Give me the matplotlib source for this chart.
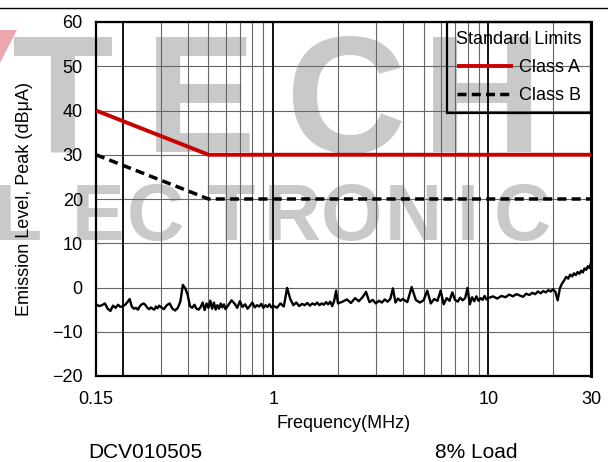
import matplotlib
matplotlib.use("Agg")
import matplotlib.pyplot as plt
from matplotlib.patches import Polygon
from matplotlib.lines import Line2D
from matplotlib.ticker import NullLocator

plt.rcParams['font.family'] = ['Liberation Sans', 'DejaVu Sans']
plt.rcParams['axes.unicode_minus'] = True

# ---------------- data ----------------
limit_freq = [0.15, 0.5, 30]
class_a = [40, 30, 30]
class_b = [30, 20, 20]

meas_freq = [
    0.150, 0.155, 0.160, 0.165, 0.170, 0.175, 0.180, 0.185, 0.190, 0.195,
    0.200, 0.205, 0.210, 0.215, 0.220, 0.225, 0.230, 0.235, 0.240, 0.245,
    0.250, 0.255, 0.260, 0.265, 0.270, 0.275, 0.280, 0.285, 0.290, 0.295, 0.300,
    0.31, 0.32, 0.33, 0.34, 0.35, 0.36, 0.37, 0.38, 0.39, 0.40,
    0.41, 0.42, 0.43, 0.44, 0.45, 0.46, 0.47, 0.48, 0.49, 0.50,
    0.51, 0.52, 0.53, 0.54, 0.55, 0.56, 0.57, 0.58, 0.59, 0.60,
    0.62, 0.64, 0.66, 0.68, 0.70, 0.72, 0.74, 0.76, 0.78, 0.80,
    0.82, 0.84, 0.86, 0.88, 0.90, 0.92, 0.94, 0.96, 0.98, 1.00,
    1.04, 1.08, 1.12, 1.16, 1.20, 1.24, 1.28, 1.32, 1.36, 1.40,
    1.44, 1.48, 1.52, 1.56, 1.60, 1.64, 1.68, 1.72, 1.76, 1.80,
    1.84, 1.88, 1.92, 1.96, 2.00,
    2.1, 2.2, 2.3, 2.4, 2.5, 2.6, 2.7, 2.8, 2.9, 3.0,
    3.1, 3.2, 3.3, 3.4, 3.5, 3.6, 3.7, 3.8, 3.9, 4.0,
    4.2, 4.4, 4.6, 4.8, 5.0, 5.2, 5.4, 5.6, 5.8, 6.0,
    6.2, 6.4, 6.6, 6.8, 7.0, 7.2, 7.4, 7.6, 7.8, 8.0,
    8.2, 8.4, 8.6, 8.8, 9.0, 9.2, 9.4, 9.6, 9.8, 10.0,
    10.5, 11.0, 11.5, 12.0, 12.5, 13.0, 13.5, 14.0, 14.5, 15.0,
    15.5, 16.0, 16.5, 17.0, 17.5, 18.0, 18.5, 19.0, 19.5, 20.0,
    20.5, 21.0, 21.5, 22.0, 22.5, 23.0, 23.5, 24.0, 24.5, 25.0,
    25.5, 26.0, 26.5, 27.0, 27.5, 28.0, 28.5, 29.0, 29.5, 30.0,
]
meas_level = [
    -3.8, -4.2, -4.0, -3.6, -4.8, -5.3, -4.1, -4.6, -3.9, -4.4,
    -4.2, -3.9, -3.3, -2.6, -4.3, -4.8, -4.6, -5.0, -4.2, -3.8,
    -3.6, -4.0, -4.6, -4.9, -4.5, -4.8, -5.0, -4.3, -4.7, -4.1, -4.4,
    -4.9, -4.0, -3.6, -4.8, -5.2, -4.6, -3.2, 0.6, -0.2, -1.6,
    -4.2, -4.6, -3.9, -4.8, -5.0, -4.4, -3.4, -5.1, -3.6, -4.6,
    -3.0, -4.8, -3.4, -5.0, -4.0, -4.8, -3.6, -4.5, -3.8, -4.9,
    -3.9, -2.9, -3.6, -4.6, -3.1, -4.4, -3.8, -4.8, -4.1, -3.4,
    -4.5, -4.0, -4.3, -3.7, -4.6, -4.0, -4.4, -3.8, -4.5, -4.1,
    -4.6, -3.6, -4.3, -0.1, -2.6, -4.0, -3.4, -4.2, -3.7, -4.0,
    -3.5, -4.1, -3.6, -3.9, -3.4, -4.0, -3.6, -3.9, -3.3, -3.8,
    -3.2, -4.2, -3.0, -0.7, -3.6,
    -3.2, -2.7, -3.5, -2.4, -3.1, -2.2, -1.0, -3.3, -2.8, -3.6,
    -3.0, -3.4, -2.7, -3.2, -2.6, -0.2, -3.4, -2.5, -3.0, -2.6,
    -3.3, 0.1, -2.8, -3.4, -2.9, -0.7, -3.6, -2.6, -3.0, -0.7,
    -3.8, -2.4, -3.0, -1.1, -2.8, -3.2, -2.3, -2.9, -2.4, -0.1,
    -3.8, -2.2, -3.1, -2.0, -3.0, -2.4, -2.8, -1.9, -2.7, -2.4,
    -2.0, -2.5, -1.9, -2.2, -1.6, -2.0, -1.5, -1.8, -2.1, -1.4,
    -1.7, -1.2, -1.5, -0.9, -1.3, -0.8, -1.1, -0.6, -0.9, -0.4,
    -1.0, -2.9, -0.2, 0.9, 1.6, 2.4, 2.0, 2.9, 2.5, 3.2,
    2.8, 3.5, 3.1, 3.8, 3.4, 4.3, 4.0, 4.8, 4.4, 5.6,
]

x_ticks = [0.15, 1, 10, 30]
x_tick_labels = ['0.15', '1', '10', '30']
y_ticks = [-20, -10, 0, 10, 20, 30, 40, 50, 60]
grid_major_x = [0.2, 1, 10]
grid_minor_x = [0.3, 0.4, 0.5, 0.6, 0.7, 0.8, 0.9,
                2, 3, 4, 5, 6, 7, 8, 9, 20]

W, H = 608, 462
fig = plt.figure(figsize=(W / 100, H / 100), dpi=100)
fig.patch.set_facecolor('white')

# ---------------- watermark ----------------
wm_color = '#c9c9c9'
fig.add_artist(Polygon([[0, 1 - 30 / H], [17 / W, 1 - 30 / H], [0, 1 - 63 / H]],
                       closed=True, transform=fig.transFigure,
                       facecolor='#eca6ae', edgecolor='none', zorder=-2))
for ch, cx in zip("TECH", [62, 200, 345, 482]):
    fig.text(cx / W, 1 - 152 / H, ch, ha='center', va='baseline',
             fontsize=120, fontweight='bold', color=wm_color, zorder=-1,
             family=['Liberation Sans', 'DejaVu Sans'])
for ch, cx in zip("LECTRONIC", [18, 98, 155, 230, 292, 352, 413, 468, 522]):
    fig.text(cx / W, 1 - 240 / H, ch, ha='center', va='baseline',
             fontsize=57, fontweight='bold', color=wm_color, zorder=-1,
             family=['Liberation Sans Narrow', 'Liberation Sans', 'DejaVu Sans'])

# top rule
fig.add_artist(Line2D([0, 1], [1 - 7.5 / H, 1 - 7.5 / H], transform=fig.transFigure,
                      color='black', lw=1.0))

# ---------------- axes ----------------
ax = fig.add_axes([96 / W, 1 - 376 / H, 495 / W, 354 / H])
ax.set_facecolor('none')
ax.set_xscale('log')
ax.set_xlim(0.15, 30)
ax.set_ylim(-20, 60)

for y in y_ticks:
    ax.axhline(y, color='#666666', lw=0.8, zorder=1)
for x in grid_minor_x:
    ax.axvline(x, color='#666666', lw=0.8, zorder=1)
for x in grid_major_x:
    ax.axvline(x, color='#111111', lw=1.4, zorder=1)

ax.plot(meas_freq, meas_level, color='black', lw=1.7, zorder=3)
ax.plot(limit_freq, class_a, color='#c80000', lw=2.8, zorder=4,
        label='Class A', solid_capstyle='butt')
ax.plot(limit_freq, class_b, color='black', lw=2.5, zorder=4,
        linestyle=(0, (2.6, 1.5)), label='Class B')

ax.set_xticks(x_ticks)
ax.set_xticklabels(x_tick_labels)
ax.xaxis.set_minor_locator(NullLocator())
ax.set_yticks(y_ticks)
ax.tick_params(axis='both', length=0, labelsize=13)
ax.tick_params(axis='x', pad=11)
ax.tick_params(axis='y', pad=9.5)

for side in ['left', 'bottom', 'top']:
    ax.spines[side].set_linewidth(1.6)
ax.spines['right'].set_linewidth(2.2)

leg = ax.legend(loc='upper right', bbox_to_anchor=(1, 1), borderaxespad=0,
                title='Standard Limits', fontsize=13, title_fontsize=13,
                handlelength=3.1, handletextpad=0.35, borderpad=0.5,
                labelspacing=0.62, fancybox=False, framealpha=1)
leg.get_frame().set_facecolor('none')
leg.get_frame().set_edgecolor('black')
leg.get_frame().set_linewidth(1.6)
leg.set_zorder(10)

fig.text(343.5 / W, 1 - 423 / H, 'Frequency(MHz)', ha='center', va='center', fontsize=13)
fig.text(24.5 / W, 1 - 199 / H, 'Emission Level, Peak (dBμA)', ha='center', va='center',
         rotation=90, fontsize=13)
fig.text(145 / W, 1 - 452 / H, 'DCV010505', ha='center', va='center', fontsize=15)
fig.text(476 / W, 1 - 452 / H, '8% Load', ha='center', va='center', fontsize=15)

fig.savefig('out.png', dpi=100, facecolor='white')
